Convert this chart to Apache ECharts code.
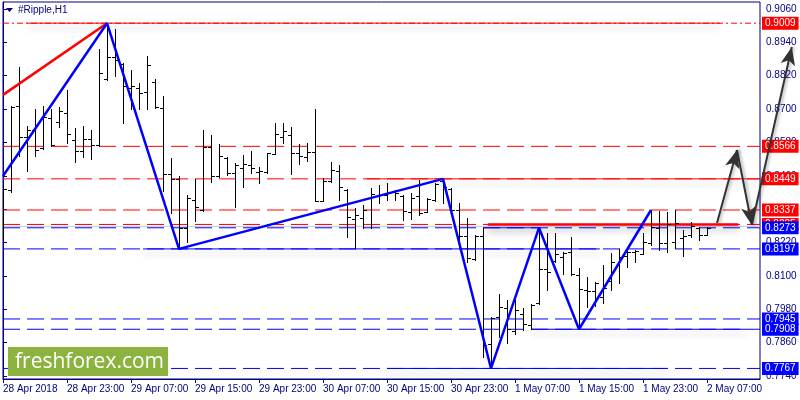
<!DOCTYPE html>
<html><head><meta charset="utf-8">
<script src="https://cdn.jsdelivr.net/npm/echarts@6/dist/echarts.min.js"></script>
<style>html,body{margin:0;padding:0;background:#fff}#c{width:800px;height:400px}</style>
</head><body><div id="c"></div>
<script>
// ---- data ----
const xTickLabels = ['28 Apr 2018','28 Apr 23:00','29 Apr 07:00','29 Apr 15:00','29 Apr 23:00','30 Apr 07:00','30 Apr 15:00','30 Apr 23:00','1 May 07:00','1 May 15:00','1 May 23:00','2 May 07:00'];
const yTickValues = [0.7740,0.7860,0.7980,0.8100,0.8220,0.8340,0.8460,0.8580,0.8700,0.8820,0.8940,0.9060];
const opens  = [0.8247,0.8409,0.8711,0.8600,0.8625,0.8560,0.8668,0.8654,0.8686,0.8589,0.8549,0.8592,0.8571,0.8808,0.8887,0.8862,0.8776,0.8776,0.8762,0.8797,0.8704,0.8467,0.8449,0.8272,0.8373,0.8337,0.8564,0.8459,0.8524,0.8470,0.8488,0.8499,0.8474,0.8474,0.8539,0.8600,0.8607,0.8542,0.8528,0.8546,0.8370,0.8441,0.8477,0.8409,0.8305,0.8308,0.8380,0.8388,0.8391,0.8402,0.8388,0.8330,0.8388,0.8330,0.8373,0.8441,0.8413,0.8337,0.8244,0.8161,0.8244,0.7855,0.7952,0.7985,0.7902,0.7963,0.7923,0.8003,0.8125,0.8154,0.8168,0.8186,0.8104,0.8050,0.8046,0.8024,0.8082,0.8139,0.8172,0.8186,0.8179,0.8219,0.8272,0.8219,0.8222,0.8237,0.8247,0.8272,0.8247];
const highs  = [0.8424,0.8711,0.8851,0.8639,0.8700,0.8711,0.8700,0.8708,0.8769,0.8632,0.8639,0.8625,0.8916,0.9009,0.8988,0.8866,0.8841,0.8794,0.8891,0.8808,0.8747,0.8524,0.8459,0.8391,0.8449,0.8625,0.8607,0.8575,0.8528,0.8506,0.8535,0.8549,0.8492,0.8542,0.8650,0.8650,0.8636,0.8575,0.8578,0.8700,0.8452,0.8510,0.8499,0.8412,0.8344,0.8355,0.8416,0.8427,0.8434,0.8409,0.8391,0.8398,0.8445,0.8380,0.8434,0.8449,0.8416,0.8362,0.8308,0.8247,0.8273,0.7952,0.8035,0.8014,0.8024,0.7985,0.7999,0.8276,0.8255,0.8255,0.8186,0.8240,0.8129,0.8096,0.8078,0.8139,0.8183,0.8197,0.8201,0.8193,0.8255,0.8337,0.8335,0.8330,0.8337,0.8265,0.8294,0.8276,0.8276];
const lows   = [0.8229,0.8402,0.8531,0.8477,0.8531,0.8557,0.8567,0.8636,0.8578,0.8510,0.8528,0.8520,0.8567,0.8805,0.8819,0.8650,0.8700,0.8700,0.8700,0.8704,0.8406,0.8326,0.8197,0.8222,0.8298,0.8334,0.8438,0.8456,0.8463,0.8348,0.8420,0.8470,0.8434,0.8470,0.8539,0.8578,0.8467,0.8503,0.8513,0.8369,0.8369,0.8438,0.8373,0.8240,0.8201,0.8272,0.8272,0.8362,0.8373,0.8373,0.8301,0.8305,0.8319,0.8328,0.8370,0.8362,0.8326,0.8204,0.8150,0.8157,0.7808,0.7767,0.7880,0.7859,0.7891,0.7906,0.7909,0.7999,0.8050,0.8150,0.8107,0.8104,0.7908,0.7988,0.7992,0.8003,0.8050,0.8075,0.8132,0.8150,0.8178,0.8211,0.8193,0.8186,0.8201,0.8172,0.8240,0.8229,0.8246];
const closes = [0.8413,0.8708,0.8600,0.8625,0.8553,0.8672,0.8571,0.8693,0.8610,0.8549,0.8592,0.8571,0.8830,0.8887,0.8877,0.8783,0.8783,0.8758,0.8859,0.8708,0.8467,0.8449,0.8272,0.8380,0.8348,0.8564,0.8459,0.8531,0.8470,0.8499,0.8503,0.8488,0.8477,0.8542,0.8610,0.8621,0.8542,0.8531,0.8546,0.8371,0.8441,0.8481,0.8420,0.8312,0.8319,0.8337,0.8395,0.8391,0.8398,0.8398,0.8334,0.8380,0.8326,0.8377,0.8432,0.8420,0.8337,0.8244,0.8165,0.8244,0.7852,0.7950,0.7988,0.7909,0.7978,0.7927,0.7997,0.8125,0.8114,0.8179,0.8183,0.8105,0.8053,0.8046,0.8075,0.8057,0.8150,0.8168,0.8186,0.8190,0.8222,0.8276,0.8219,0.8287,0.8290,0.8244,0.8280,0.8247,0.8272];
const levelValues = [0.9009,0.8566,0.8449,0.8337,0.8285,0.8273,0.8197,0.7945,0.7908,0.7767];
const bidValue = 0.8278;
const zigzag = [[0,0.8459],[13,0.9009],[22,0.8197],[55,0.8449],[61,0.7767],[67,0.8273],[72,0.7908],[81,0.8337]];
const redTrend = [[0,0.8751],[13,0.9009]];
const arrowPath = [[89.25,0.8290],[91.75,0.8553],[93.6,0.8283],[98.6,0.8923]];

// ---- styling / layout ----
const NAVY = '#000080', RED = '#ff0000', BLUE = '#0000ff';
const FONT = 'Liberation Sans, Arial, sans-serif';
const levelColors = [RED,RED,RED,RED,RED,BLUE,BLUE,BLUE,BLUE,BLUE];
const levelDash   = [[6,3,2,3],[17,7],[17,7],[17,7],[17,7],[17,7],[17,7],[17,7],[17,7],[17,7]];
// solid segments of levels: [level index, from bar, to bar, width]
const solidSegs = [[0,3,89.6,1],[2,45.5,94.7,1],[4,60.6,91.9,2.5],[5,60,67,1],[6,17.5,74.6,1],[8,66,93,1],[9,48,83,1]];
const X_MAX = 94.625;

const chart = echarts.init(document.getElementById('c'), null, {renderer:'canvas'});
const bars = opens.map((o,i)=>[i,o,highs[i],lows[i],closes[i]]);

const series = [];
// bid line
series.push({type:'line', z:1, silent:true, symbol:'none', animation:false,
  data:[[0,bidValue],[X_MAX,bidValue]], lineStyle:{color:'#c8c8c8', width:1}});
// level lines with price boxes
levelValues.forEach((v,i)=>{
  series.push({
    type:'line', z:1, silent:true, symbol:'none', animation:false,
    data:[[0,v],[X_MAX,v]],
    lineStyle:{color:levelColors[i], width:1, type:levelDash[i]},
    endLabel:{show:true, distance:2, formatter:v.toFixed(4), color:'#fff',
      backgroundColor:levelColors[i], padding:[2,3,1,3], fontSize:10, fontFamily:FONT}
  });
});
solidSegs.forEach(s=>{
  series.push({
    type:'line', z:2, silent:true, symbol:'none',
    data:[[s[1],levelValues[s[0]]],[s[2],levelValues[s[0]]]],
    lineStyle:{color:levelColors[s[0]], width:s[3], shadowBlur:6, shadowColor:'rgba(0,0,0,0.28)', shadowOffsetY:5}
  });
});
// OHLC bars
series.push({
  type:'custom', z:3, silent:true, clip:true,
  data:bars, encode:{x:0, y:[1,2,3,4]},
  renderItem:(params, api)=>{
    const k = api.value(0);
    const o = api.coord([k, api.value(1)]), h = api.coord([k, api.value(2)]);
    const l = api.coord([k, api.value(3)]), c = api.coord([k, api.value(4)]);
    const x = Math.round(h[0]) + 0.5;
    const r = v => Math.round(v) + 0.5;
    const st = {stroke:'#000', lineWidth:1};
    return {type:'group', children:[
      {type:'line', shape:{x1:x, y1:Math.round(h[1]), x2:x, y2:Math.round(l[1])+1}, style:st},
      {type:'line', shape:{x1:x-3.5, y1:r(o[1]), x2:x, y2:r(o[1])}, style:st},
      {type:'line', shape:{x1:x, y1:r(c[1]), x2:x+3.5, y2:r(c[1])}, style:st}
    ]};
  }
});
// red trend + blue zigzag
series.push({type:'line', z:4, silent:true, symbol:'none', data:redTrend, lineStyle:{color:RED, width:2.5}});
series.push({type:'line', z:4, silent:true, symbol:'none', data:zigzag, lineStyle:{color:BLUE, width:2.5}});
// arrows
series.push({
  type:'lines', coordinateSystem:'cartesian2d', z:5, silent:true, clip:false,
  symbol:['none','arrow'], symbolSize:[0,[11,18]],
  lineStyle:{color:'#333', width:2, opacity:1, curveness:0, shadowBlur:3, shadowColor:'rgba(0,0,0,0.3)', shadowOffsetX:2},
  itemStyle:{color:'#333'},
  data:arrowPath.slice(1).map((p,i)=>({coords:[arrowPath[i], p]}))
});

chart.setOption({
  animation:false,
  backgroundColor:'#fff',
  grid:{left:3, right:40, top:2, bottom:21, show:true, borderColor:NAVY, borderWidth:1, backgroundColor:'#fff', containLabel:false, outerBoundsMode:'none'},
  xAxis:{
    type:'value', min:0, max:X_MAX,
    axisLine:{show:true, lineStyle:{color:NAVY}},
    axisTick:{show:true, length:4, customValues:xTickLabels.map((_,i)=>i*8), lineStyle:{color:NAVY}},
    axisLabel:{customValues:xTickLabels.map((_,i)=>i*8), formatter:v=>xTickLabels[Math.round(v/8)], align:'left',
      color:NAVY, fontSize:10, fontFamily:FONT, margin:5},
    splitLine:{show:false}
  },
  yAxis:{
    type:'value', position:'right', min:0.772906, max:0.908518,
    axisLine:{show:true, lineStyle:{color:NAVY}},
    axisTick:{show:true, length:4, customValues:yTickValues, lineStyle:{color:NAVY}},
    axisLabel:{customValues:yTickValues, formatter:v=>v.toFixed(4), color:NAVY, fontSize:10, fontFamily:FONT, margin:6},
    splitLine:{show:false}
  },
  graphic:[
    {type:'polygon', shape:{points:[[6,8],[13,8],[9.5,12]]}, style:{fill:NAVY}, z:10},
    {type:'text', left:18, top:5, style:{text:'#Ripple,H1', fill:NAVY, font:'10px '+FONT}, z:10},
    {type:'rect', shape:{x:8, y:347, width:160, height:29}, style:{fill:'#8cb33f'}, z:10},
    {type:'text', x:15, y:362, style:{text:'freshforex.com', fill:'#fff', font:'21px "Open Sans", sans-serif', verticalAlign:'middle', align:'left'}, z:11}
  ],
  series
});
</script>
</body></html>
